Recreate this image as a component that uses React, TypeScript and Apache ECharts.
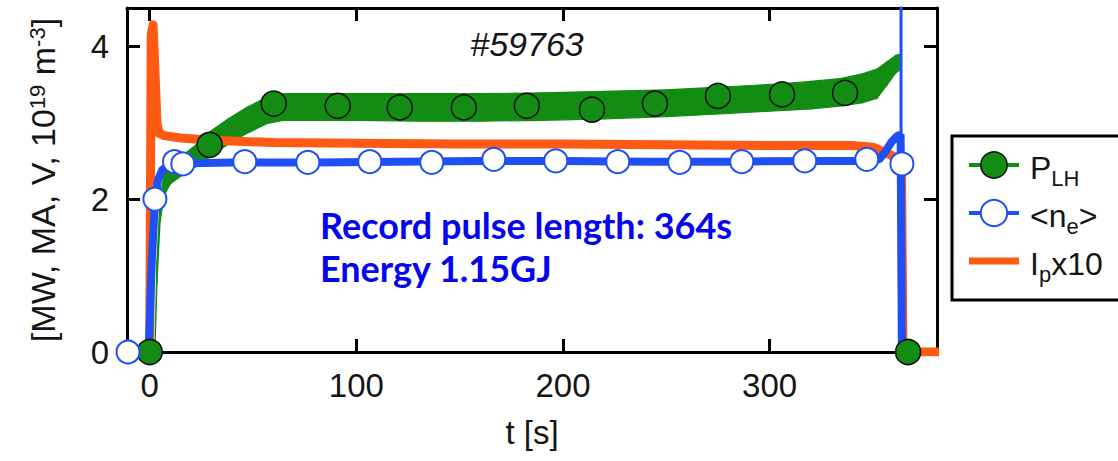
import React, { useEffect, useRef } from "react";
import * as echarts from "echarts";

// ---- axis ticks ----
const xTickValues = [0, 100, 200, 300];
const yTickValues = [0, 2, 4];

// ---- P_LH noisy band (lower / upper envelope) ----
const plhBandTime = [2.5, 3.5, 5, 7, 10, 15, 22, 29, 38, 47, 57, 65, 80, 100, 130, 160, 190, 220, 250, 280, 300, 320, 335, 345, 352, 357, 361, 363.5, 364.2];
const plhLow = [0, 0.9, 1.7, 2.05, 2.2, 2.3, 2.42, 2.55, 2.72, 2.86, 2.99, 3.03, 3.03, 3.03, 3.02, 3.02, 3.03, 3.05, 3.08, 3.12, 3.15, 3.18, 3.22, 3.26, 3.32, 3.5, 3.65, 3.7, 0];
const plhHigh = [0, 1.2, 2.0, 2.35, 2.45, 2.55, 2.7, 2.88, 3.05, 3.2, 3.34, 3.38, 3.38, 3.38, 3.38, 3.38, 3.39, 3.41, 3.43, 3.47, 3.5, 3.54, 3.58, 3.64, 3.7, 3.8, 3.88, 3.9, 0];

// ---- P_LH markers ----
const plhMarkTime = [0, 29, 60, 91, 121, 152, 182.5, 214, 244.5, 275, 306, 336.5, 367];
const plhMarkVal = [0, 2.71, 3.25, 3.22, 3.2, 3.2, 3.22, 3.17, 3.25, 3.35, 3.37, 3.39, 0];

// ---- <n_e> trace ----
const neTime = [-11, -0.5, 1, 2.5, 4, 6, 9, 13, 20, 40, 80, 120, 160, 200, 240, 280, 320, 345, 353, 356, 359, 362, 363.4, 364, 368];
const neVal = [0, 0, 1.2, 1.95, 2.25, 2.38, 2.44, 2.47, 2.47, 2.48, 2.48, 2.49, 2.5, 2.5, 2.49, 2.49, 2.5, 2.5, 2.52, 2.62, 2.75, 2.83, 2.84, 0, 0];
const neSpikeTime = [363.6, 363.6];
const neSpikeVal = [2.8, 4.6];

// ---- <n_e> markers ----
const neMarkTime = [-10.5, 2.5, 12, 16, 46, 76.5, 106.5, 136.5, 166.5, 196.5, 226.5, 256.5, 286.5, 317, 347, 364];
const neMarkVal = [0, 2.0, 2.49, 2.46, 2.49, 2.48, 2.49, 2.48, 2.52, 2.5, 2.49, 2.48, 2.49, 2.5, 2.52, 2.46];

// ---- I_p x10 trace ----
const ipTime = [0, 0.7, 1.6, 2.5, 3.5, 4.5, 7, 15, 30, 60, 100, 150, 200, 250, 300, 340, 350, 355, 360, 363.8, 364.5, 382];
const ipVal = [0, 4.15, 4.28, 3.7, 3.0, 2.86, 2.83, 2.8, 2.77, 2.74, 2.73, 2.72, 2.72, 2.71, 2.7, 2.7, 2.68, 2.62, 2.56, 2.54, 0, 0];

// ---- texts ----
const titleText = "#59763";
const noteLines = ["Record pulse length: 364s", "Energy 1.15GJ"];
const legendNames = ["P_LH", "<n_e>", "I_px10"];

const GREEN = "#138c13";
const BLUE = "#1e50f5";
const ORANGE = "#ff5a14";
const INK = "#151515";
const FONT = '"Liberation Sans", Arial, sans-serif';

const pair = (xs: number[], ys: number[]) => xs.map((x, i) => [x, ys[i]]);

export default function App() {
  const ref = useRef<HTMLDivElement>(null);
  useEffect(() => {
    const chart = echarts.init(ref.current!, undefined, { renderer: "svg" });

    // band segments: [t0, low0, high0, t1, low1, high1]
    const bandSegments = plhBandTime.slice(0, -1).map((t, i) => [
      t, plhLow[i], plhHigh[i], plhBandTime[i + 1], plhLow[i + 1], plhHigh[i + 1],
    ]);

    const legendRich = {
      m0: { fontSize: 32, lineHeight: 32, fontFamily: FONT, color: INK, verticalAlign: "top", padding: [3, 0, 0, 6] },
      m: { fontSize: 32, lineHeight: 32, fontFamily: FONT, color: INK, verticalAlign: "top", padding: [3, 0, 0, 0] },
      s: { fontSize: 22, lineHeight: 22, fontFamily: FONT, color: INK, verticalAlign: "top", padding: [18, 0, 0, 0] },
    };
    const legendFmt: Record<string, string> = {
      P_LH: "{m0|P}{s|LH}",
      "<n_e>": "{m0|<n}{s|e}{m|>}",
      I_px10: "{m0|I}{s|p}{m|x10}",
    };

    const frameAxisCommon = {
      axisLine: { show: true, onZero: false, lineStyle: { color: "#000", width: 3 } },
      axisTick: { show: true, inside: true, length: 13, lineStyle: { color: "#000", width: 3 } },
      splitLine: { show: false },
    };

    const option: any = {
      animation: false,
      backgroundColor: "#fff",
      grid: { left: 127, right: 181, top: 8, bottom: 109, containLabel: false },
      xAxis: [
        {
          type: "value",
          min: -11,
          max: 381,
          position: "bottom",
          ...frameAxisCommon,
          axisTick: { ...frameAxisCommon.axisTick, customValues: xTickValues },
          axisLabel: { customValues: xTickValues, fontSize: 33, fontFamily: FONT, color: INK, margin: 17 },
          name: "t [s]",
          nameLocation: "middle",
          nameGap: 64,
          nameTextStyle: { fontSize: 33, fontFamily: FONT, color: INK },
        },
        {
          type: "value",
          min: -11,
          max: 381,
          position: "top",
          ...frameAxisCommon,
          axisTick: { ...frameAxisCommon.axisTick, customValues: xTickValues },
          axisLabel: { show: false },
        },
      ],
      yAxis: [
        {
          type: "value",
          min: 0,
          max: 4.5,
          position: "left",
          ...frameAxisCommon,
          axisTick: { ...frameAxisCommon.axisTick, customValues: yTickValues },
          axisLabel: { customValues: yTickValues, fontSize: 33, fontFamily: FONT, color: INK, margin: 18 },
          name: "{n|[MW, MA, V, 10}{s|19}{n| m}{s|-3}{n|]}",
          nameLocation: "middle",
          nameGap: 67,
          nameTextStyle: {
            fontSize: 34,
            fontFamily: FONT,
            color: INK,
            rich: {
              n: { fontSize: 34, lineHeight: 34, fontFamily: FONT, color: INK, verticalAlign: "bottom" },
              s: { fontSize: 22, lineHeight: 22, fontFamily: FONT, color: INK, verticalAlign: "top", padding: [0, 0, 27, 0] },
            },
          },
        },
        {
          type: "value",
          min: 0,
          max: 4.5,
          position: "right",
          ...frameAxisCommon,
          axisTick: { ...frameAxisCommon.axisTick, customValues: [2, 4] },
          axisLabel: { show: false },
        },
      ],
      legend: {
        orient: "vertical",
        left: 952,
        top: 135,
        itemWidth: 50,
        itemHeight: 33,
        itemGap: 8,
        padding: [14, 10, 18, 15],
        z: 6,
        selectedMode: false,
        formatter: (name: string) => legendFmt[name] ?? name,
        textStyle: { rich: legendRich, fontSize: 32, fontFamily: FONT, color: INK },
        data: [
          {
            name: legendNames[0],
            lineStyle: { color: GREEN, width: 4, opacity: 1 },
            itemStyle: { color: GREEN, borderColor: "#111", borderWidth: 1.5 },
          },
          {
            name: legendNames[1],
            lineStyle: { color: BLUE, width: 4, opacity: 1 },
            itemStyle: { color: "#fff", borderColor: BLUE, borderWidth: 2 },
          },
          {
            name: legendNames[2],
            icon: "path://M0 0H50V7H0Z",
            itemStyle: { color: ORANGE, borderWidth: 0 },
          },
        ],
      },
      graphic: [
        {
          type: "rect",
          z: 5,
          shape: { x: 952, y: 136, width: 220, height: 164 },
          style: { fill: "#fff", stroke: "#000", lineWidth: 3 },
        },
        {
          type: "text",
          z: 10,
          x: 527,
          y: 44,
          style: { text: titleText, font: `italic 34px ${FONT}`, fill: INK, align: "center", verticalAlign: "middle" },
        },
        {
          type: "text",
          z: 10,
          x: 320,
          y: 203,
          style: {
            text: noteLines.join("\n"),
            font: 'bold 36px Lato, "Open Sans", sans-serif',
            lineHeight: 43,
            fill: "#0505f0",
            align: "left",
            verticalAlign: "top",
          },
        },
      ],
      series: [
        {
          name: "plhBand",
          type: "custom",
          data: bandSegments,
          encode: { x: [0, 3], y: [1, 2, 4, 5] },
          clip: true,
          z: 1,
          renderItem: (params: any, api: any) => {
            const t0 = api.value(0), l0 = api.value(1), h0 = api.value(2);
            const t1 = api.value(3), l1 = api.value(4), h1 = api.value(5);
            const pts = [api.coord([t0, l0]), api.coord([t1, l1]), api.coord([t1, h1]), api.coord([t0, h0])];
            return {
              type: "polygon",
              shape: { points: pts },
              style: { fill: GREEN, stroke: GREEN, lineWidth: 1.2 },
            };
          },
        },
        {
          name: legendNames[2],
          type: "line",
          data: pair(ipTime, ipVal),
          symbol: "none",
          lineStyle: { width: 9, color: ORANGE, join: "round" },
          itemStyle: { color: ORANGE },
          z: 2,
        },
        {
          name: "neTrace",
          type: "line",
          data: pair(neTime, neVal),
          symbol: "none",
          lineStyle: { width: 8, color: BLUE },
          z: 3,
        },
        {
          name: "neSpike",
          type: "line",
          data: pair(neSpikeTime, neSpikeVal),
          symbol: "none",
          lineStyle: { width: 3, color: BLUE },
          z: 3,
        },
        {
          name: legendNames[0],
          type: "line",
          data: pair(plhMarkTime, plhMarkVal),
          symbol: "circle",
          symbolSize: 25,
          showSymbol: true,
          lineStyle: { width: 0, color: GREEN },
          itemStyle: { color: GREEN, borderColor: "#111", borderWidth: 1.5 },
          z: 4,
        },
        {
          name: legendNames[1],
          type: "line",
          data: pair(neMarkTime, neMarkVal),
          symbol: "circle",
          symbolSize: 23,
          showSymbol: true,
          lineStyle: { width: 0, color: BLUE },
          itemStyle: { color: "#fff", borderColor: BLUE, borderWidth: 2 },
          z: 5,
        },
      ],
    };
    chart.setOption(option);
    return () => chart.dispose();
  }, []);
  return (
    <div
      ref={ref}
      style={{ position: "fixed", left: 0, top: 0, width: 1118, height: 461, background: "#fff" }}
    />
  );
}
